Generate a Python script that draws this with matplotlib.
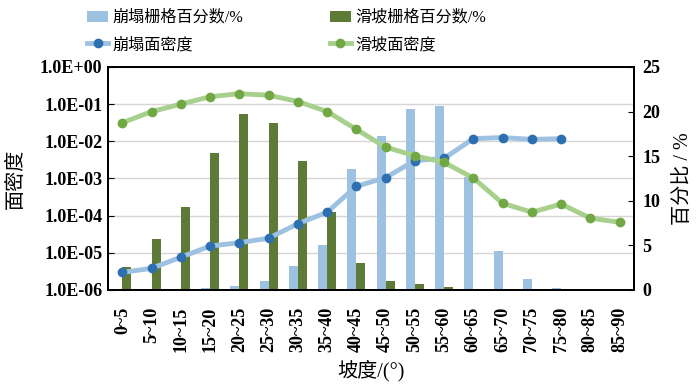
import matplotlib
matplotlib.use('Agg')
import matplotlib.pyplot as plt
import numpy as np

plt.rcParams['font.family'] = ['Liberation Serif', 'Noto Sans CJK SC']

categories = ['0~5', '5~10', '10~15', '15~20', '20~25', '25~30', '30~35', '35~40',
              '40~45', '45~50', '50~55', '55~60', '60~65', '65~70', '70~75',
              '75~80', '80~85', '85~90']

# bar percentages (right axis)
collapse_pct = [0, 0, 0, 0.2, 0.4, 1.0, 2.65, 5.0, 13.5, 17.2, 20.3, 20.6, 12.7, 4.4,
                1.2, 0.2, 0, 0]
landslide_pct = [2.6, 5.7, 9.3, 15.4, 19.7, 18.7, 14.5, 8.7, 3.0, 1.0, 0.64, 0.3, 0, 0,
                 0, 0, 0, 0]

# log10 of area densities (left axis)
collapse_log = [-5.53, -5.42, -5.12, -4.82, -4.73, -4.61, -4.22, -3.91, -3.21, -2.98,
                -2.52, -2.46, -1.93, -1.90, -1.95, -1.93]
landslide_log = [-1.50, -1.20, -1.00, -0.80, -0.72, -0.76, -0.93, -1.20, -1.68, -2.16,
                 -2.39, -2.57, -2.99, -3.67, -3.91, -3.69, -4.07, -4.18]

collapse_den = 10.0 ** np.array(collapse_log)
landslide_den = 10.0 ** np.array(landslide_log)

x = np.arange(len(categories))
w = 0.31
tick_font = dict(size=13, weight='bold')

fig = plt.figure(figsize=(7, 3.87), dpi=100)
ax = fig.add_axes([0.154, 0.251, 0.752, 0.576])
ax.set_yscale('log')
ax.set_ylim(1e-6, 1)
ax.set_xlim(-0.5, len(categories) - 0.5)
ax.yaxis.grid(True, color='#d9d4d4', linewidth=1)
ax.set_axisbelow(True)
ax.set_yticks([10.0 ** k for k in range(-6, 1)])
ax.set_yticklabels(['1.0E-06', '1.0E-05', '1.0E-04', '1.0E-03', '1.0E-02',
                    '1.0E-01', '1.0E+00'], fontdict=tick_font)
ax.minorticks_off()
ax.tick_params(axis='y', direction='in', length=4, pad=4)
ax.set_xticks(x)
ax.set_xticklabels(categories, rotation=90, fontdict=tick_font)
ax.tick_params(axis='x', length=0, pad=12)
ax.set_ylabel('面密度', fontsize=14.5, labelpad=10)
ax.set_xlabel('坡度/(°)', fontsize=14.5, labelpad=6)

ax2 = ax.twinx()
b1 = ax2.bar(x - w / 2, collapse_pct, width=w, color='#9dc1e0', zorder=2)
b2 = ax2.bar(x + w / 2, landslide_pct, width=w, color='#5d7b36', zorder=2)
ax2.set_ylim(0, 25)
ax2.set_yticks([0, 5, 10, 15, 20, 25])
ax2.set_yticklabels(['0', '5', '10', '15', '20', '25'], fontdict=tick_font)
ax2.tick_params(axis='y', direction='in', length=4, pad=6)
ax2.set_ylabel('百分比 / %', fontsize=14.5, labelpad=10)

ax3 = ax.twinx()
ax3.set_yscale('log')
ax3.set_ylim(1e-6, 1)
ax3.set_yticks([])
ax3.minorticks_off()
ax3.tick_params(axis='y', which='both', length=0, labelright=False)
l1, = ax3.plot(x[:len(collapse_den)], collapse_den, color='#9dc1e0', linewidth=3.5,
               marker='o', markersize=6, markerfacecolor='#2e6fb0',
               markeredgecolor='#2e6fb0')
l2, = ax3.plot(x, landslide_den, color='#a8d08d', linewidth=3.5,
               marker='o', markersize=6, markerfacecolor='#72a844',
               markeredgecolor='#72a844')

for a in (ax, ax2, ax3):
    for s in a.spines.values():
        s.set_linewidth(1.3)
        s.set_color('black')

fig.legend([b1, l1, b2, l2], ['崩塌栅格百分数/%', '崩塌面密度', '滑坡栅格百分数/%', '滑坡面密度'],
           ncol=2, loc='upper left', bbox_to_anchor=(0.104, 1.012), frameon=False,
           fontsize=11.6, columnspacing=5.4, handlelength=1.3, handletextpad=0.25,
           labelspacing=0.7)

fig.savefig('out.png', dpi=100)
